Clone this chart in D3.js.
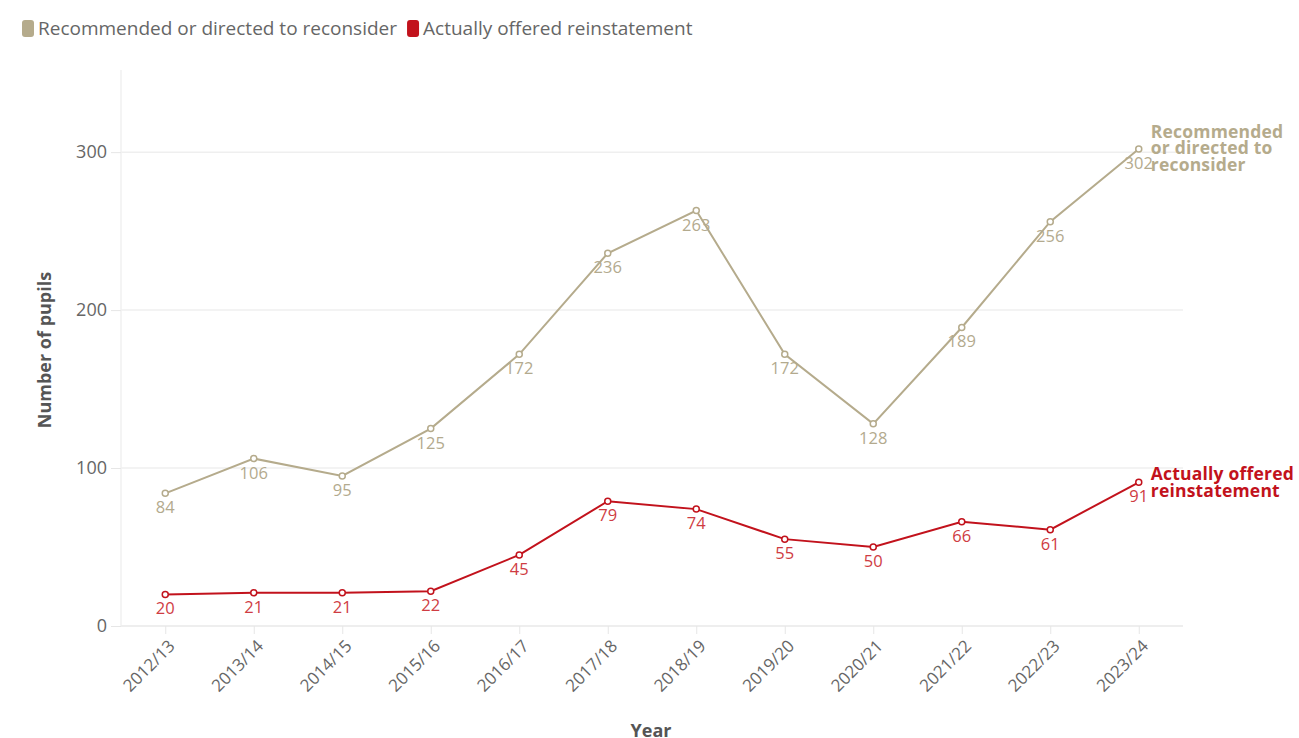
<!DOCTYPE html>
<html>
<head>
<meta charset="utf-8">
<script src="https://cdn.jsdelivr.net/npm/d3@7"></script>
<style>
  body { margin: 0; background: #fff; }
  svg text { font-family: "Open Sans", Roboto, sans-serif; }
</style>
</head>
<body>
<div id="chart"></div>
<script>
// data
var years = ['2012/13','2013/14','2014/15','2015/16','2016/17','2017/18','2018/19','2019/20','2020/21','2021/22','2022/23','2023/24'];
var recommended = [84, 106, 95, 125, 172, 236, 263, 172, 128, 189, 256, 302];
var offered = [20, 21, 21, 22, 45, 79, 74, 55, 50, 66, 61, 91];
var yTicks = [0, 100, 200, 300];
var seriesNames = ['Recommended or directed to reconsider', 'Actually offered reinstatement'];

var width = 1299, height = 738;
var margin = { left: 121, right: 116, top: 70, bottom: 112 };

var tan = '#b5ab8c', red = '#c2121c';
var tanLabel = '#b3aa8e', redLabel = '#cf3c43';

var svg = d3.select('#chart').append('svg')
  .attr('width', width)
  .attr('height', height);

var x = d3.scalePoint()
  .domain(years)
  .range([margin.left, width - margin.right])
  .padding(0.5);

var y = d3.scaleLinear()
  .domain([0, 352])
  .range([height - margin.bottom, margin.top]);

// gridlines
svg.append('g')
  .selectAll('line')
  .data(yTicks)
  .join('line')
  .attr('x1', margin.left)
  .attr('x2', width - margin.right)
  .attr('y1', function(d){ return y(d); })
  .attr('y2', function(d){ return y(d); })
  .attr('stroke', '#efefef')
  .attr('stroke-width', 1.5);

// left axis line
svg.append('line')
  .attr('x1', margin.left).attr('x2', margin.left)
  .attr('y1', margin.top).attr('y2', y(0))
  .attr('stroke', '#f0f0f0')
  .attr('stroke-width', 1.5);

// y axis
var yAxis = svg.append('g')
  .attr('transform', 'translate(' + margin.left + ',0)')
  .call(d3.axisLeft(y).tickValues(yTicks).tickSize(6).tickPadding(8));
yAxis.select('.domain').remove();
yAxis.selectAll('.tick line').attr('stroke', '#e6e6e6').attr('x1', -10).attr('x2', 0);
yAxis.selectAll('.tick text')
  .attr('fill', '#666')
  .attr('font-size', '18px')
  .attr('x', -14);

// x axis
var xAxis = svg.append('g')
  .attr('transform', 'translate(0,' + y(0) + ')')
  .call(d3.axisBottom(x).tickSize(8).tickPadding(4));
xAxis.select('.domain').attr('stroke', '#ececec').attr('stroke-width', 1.5)
  .attr('d', 'M' + margin.left + ',0H' + (width - margin.right));
xAxis.selectAll('.tick line').attr('stroke', '#e6e6e6');
xAxis.selectAll('.tick text')
  .attr('fill', '#666')
  .attr('font-size', '17px')
  .attr('text-anchor', 'end')
  .attr('dy', '0.35em')
  .attr('transform', 'translate(6,17) rotate(-45)')
  .attr('x', 0)
  .attr('y', 0);

// axis titles
svg.append('text')
  .attr('transform', 'translate(51,' + ((margin.top + y(0)) / 2 + 2) + ') rotate(-90)')
  .attr('text-anchor', 'middle')
  .attr('font-size', '18px')
  .attr('font-weight', 'bold')
  .attr('fill', '#555')
  .text('Number of pupils');

svg.append('text')
  .attr('x', 651)
  .attr('y', 737)
  .attr('text-anchor', 'middle')
  .attr('font-size', '18px')
  .attr('font-weight', 'bold')
  .attr('fill', '#555')
  .text('Year');

// lines
var series = [
  { name: seriesNames[0], values: recommended, color: tan, label: tanLabel, endLines: ['Recommended', 'or directed to', 'reconsider'], endDy: -11 },
  { name: seriesNames[1], values: offered, color: red, label: redLabel, endLines: ['Actually offered', 'reinstatement'], endDy: -2 }
];

var line = d3.line()
  .x(function(d, i){ return x(years[i]); })
  .y(function(d){ return y(d); });

series.forEach(function(s){
  var g = svg.append('g');
  g.append('path')
    .datum(s.values)
    .attr('d', line)
    .attr('fill', 'none')
    .attr('stroke', s.color)
    .attr('stroke-width', 2);

  g.selectAll('circle')
    .data(s.values)
    .join('circle')
    .attr('cx', function(d, i){ return x(years[i]); })
    .attr('cy', function(d){ return y(d); })
    .attr('r', 3)
    .attr('fill', '#fff')
    .attr('stroke', s.color)
    .attr('stroke-width', 1.5);

  g.selectAll('text.val')
    .data(s.values)
    .join('text')
    .attr('class', 'val')
    .attr('x', function(d, i){ return x(years[i]); })
    .attr('y', function(d){ return y(d) + 20; })
    .attr('text-anchor', 'middle')
    .attr('font-size', '16.5px')
    .attr('fill', s.label)
    .text(function(d){ return d; });

  // end label
  var last = s.values[s.values.length - 1];
  var t = g.append('text')
    .attr('x', x(years[years.length - 1]) + 12)
    .attr('y', y(last) + s.endDy)
    .attr('font-size', '17.5px')
    .attr('font-weight', 'bold')
    .attr('letter-spacing', '0.2px')
    .attr('fill', s.color);
  t.selectAll('tspan')
    .data(s.endLines)
    .join('tspan')
    .attr('x', x(years[years.length - 1]) + 12)
    .attr('dy', function(d, i){ return i === 0 ? 0 : 16.5; })
    .text(function(d){ return d; });
});

// legend
var legend = svg.append('g').attr('transform', 'translate(22,20)');
var lx = 0;
series.forEach(function(s){
  var item = legend.append('g').attr('transform', 'translate(' + lx + ',0)');
  item.append('rect')
    .attr('width', 12).attr('height', 17).attr('rx', 3)
    .attr('fill', s.color);
  var txt = item.append('text')
    .attr('x', 16).attr('y', 15)
    .attr('font-size', '19px')
    .attr('fill', '#666')
    .text(s.name);
  lx += 16 + txt.node().getComputedTextLength() + 10;
});
</script>
</body>
</html>
